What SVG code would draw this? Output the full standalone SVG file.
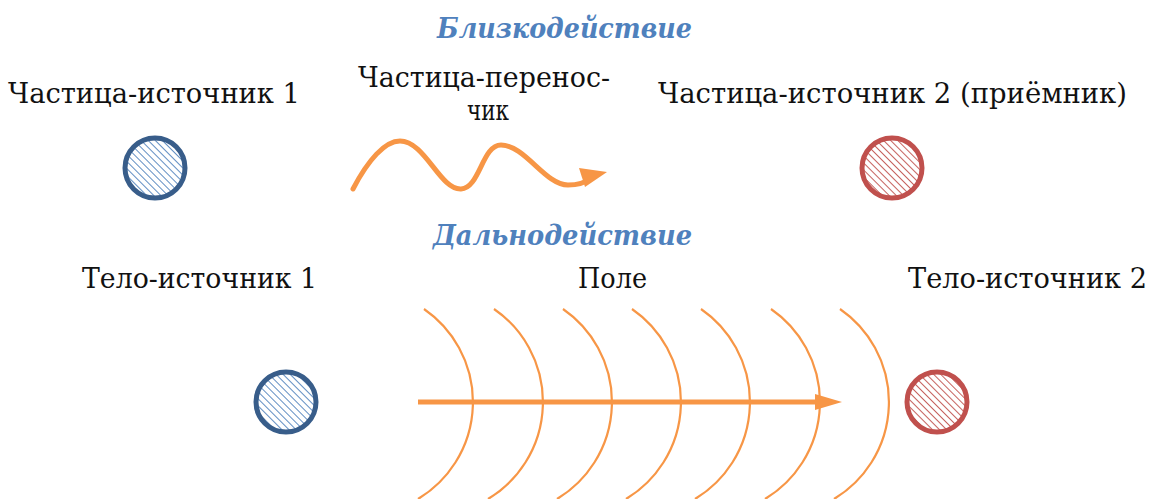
<svg xmlns="http://www.w3.org/2000/svg" width="1153" height="499" viewBox="0 0 1153 499">
<style>
.lbl{font-family:"DejaVu Serif","Liberation Serif",serif;font-size:28px;fill:#111}
.ttl{font-family:"DejaVu Serif","Liberation Serif",serif;font-size:28px;font-weight:bold;font-style:italic;fill:#4F81BD}
.blue{fill:url(#hatchB);stroke:#385D8A;stroke-width:5}
.red{fill:url(#hatchR);stroke:#C0504D;stroke-width:5}
.arc{fill:none;stroke:#F79646;stroke-width:2.2}
.ar{fill:none;stroke:#F79646;stroke-width:5}
</style>
<defs>
<pattern id="hatchB" patternUnits="userSpaceOnUse" width="5" height="5" patternTransform="rotate(-45)">
<rect width="5" height="5" fill="#fff"/>
<line x1="0" y1="0" x2="0" y2="5" stroke="#4F81BD" stroke-width="1.8"/>
</pattern>
<pattern id="hatchR" patternUnits="userSpaceOnUse" width="5" height="5" patternTransform="rotate(-45)">
<rect width="5" height="5" fill="#fff"/>
<line x1="0" y1="0" x2="0" y2="5" stroke="#C0504D" stroke-width="1.8"/>
</pattern>
</defs>
<g id="title1"><text class="ttl" x="437" y="38" textLength="255" lengthAdjust="spacingAndGlyphs">Близкодействие</text></g>
<g id="title2"><text class="ttl" x="433" y="245" textLength="259" lengthAdjust="spacingAndGlyphs">Дальнодействие</text></g>
<g id="src1">
<text class="lbl" x="8" y="103" textLength="292" lengthAdjust="spacingAndGlyphs">Частица-источник 1</text>
<circle class="blue" cx="155" cy="168" r="30"/>
</g>
<g id="carrier">
<text class="lbl" x="358" y="87" textLength="252" lengthAdjust="spacingAndGlyphs">Частица-перенос-</text>
<text class="lbl" x="467" y="120" textLength="42" lengthAdjust="spacingAndGlyphs">чик</text>
</g>
<g id="src2">
<text class="lbl" x="658" y="103" textLength="469" lengthAdjust="spacingAndGlyphs">Частица-источник 2 (приёмник)</text>
<circle class="red" cx="892" cy="168" r="30"/>
</g>
<g id="body1">
<text class="lbl" x="82" y="288" textLength="235" lengthAdjust="spacingAndGlyphs">Тело-источник 1</text>
<circle class="blue" cx="286" cy="402" r="30"/>
</g>
<g id="field">
<text class="lbl" x="578" y="288" textLength="69" lengthAdjust="spacingAndGlyphs">Поле</text>
<path class="arc" d="M424,309 A113,113 0 0 1 418,499 M494,309 A113,113 0 0 1 488,499 M563,309 A113,113 0 0 1 557,499 M632,309 A113,113 0 0 1 626,499 M701,309 A113,113 0 0 1 695,499 M771,309 A113,113 0 0 1 765,499 M840,309 A113,113 0 0 1 834,499"/>
</g>
<g id="body2">
<text class="lbl" x="908" y="288" textLength="239" lengthAdjust="spacingAndGlyphs">Тело-источник 2</text>
<circle class="red" cx="937" cy="402" r="30"/>
</g>
<g id="connectors">
<path class="ar" d="M353,189 C368,160 385,141 400,141 C425,141 440,190 461,189 C480,188 482,145 501,145 C525,145 545,185 568,185 C578,185 585,183 592,178" stroke-linecap="round"/>
<path d="M579,168 L607,172 L585,187 z" fill="#F79646"/>
<line x1="418" y1="402" x2="818" y2="402" stroke="#F79646" stroke-width="5"/>
<path d="M815,394 L842,402 L815,410 z" fill="#F79646"/>
</g>
</svg>
